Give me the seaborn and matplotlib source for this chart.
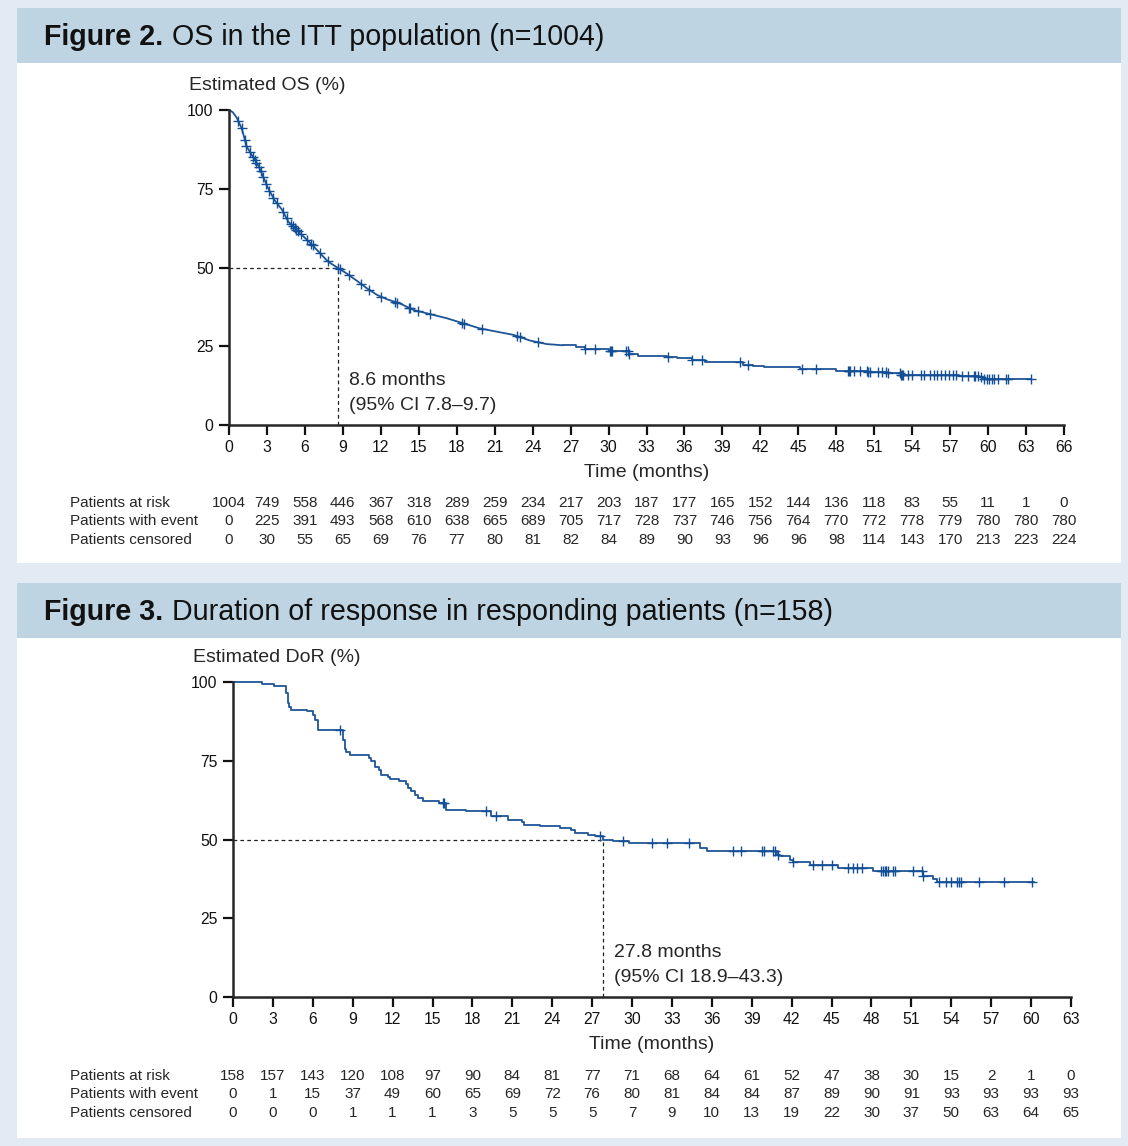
import numpy as np
import pandas as pd
import seaborn as sns
import matplotlib.pyplot as plt
from matplotlib.patches import Rectangle
from matplotlib import transforms

# ---------------------------------------------------------------- data
# OS in the ITT population
os_time = [0, 0.3, 0.6, 1.0, 1.4, 1.8, 2.3, 2.7, 3.1, 3.6, 4.2, 4.7, 5.2, 5.9, 6.5,
           7.2, 7.85, 8.6, 9.3, 10.1, 10.9, 11.7, 12.5, 13.5, 14.6, 15.9, 17.2, 18.5,
           19.8, 21.2, 22.5, 23.8, 25.1, 26.4, 27.4, 28.1, 30.0, 31.6, 32.3, 34.6,
           35.4, 36.6, 37.6, 40.6, 41.4, 42.3, 45.1, 48.0, 50.5, 52.0, 53.1, 57.7,
           59.3, 59.6, 63.4]
os_surv = [100, 99.3, 97.6, 94.2, 88.4, 85.7, 82.5, 78.8, 75.1, 71.4, 68.3, 64.5, 62.4,
           59.8, 57.5, 54.5, 51.8, 49.9, 48.1, 45.8, 43.4, 41.3, 39.9, 38.6, 36.5,
           35.2, 33.9, 32.3, 30.7, 29.6, 28.6, 26.8, 25.7, 25.3, 24.9, 24.1, 23.6,
           22.5, 22.0, 21.7, 21.3, 20.7, 19.9, 19.2, 18.6, 18.3, 17.8, 17.0, 16.7,
           16.4, 15.9, 15.7, 15.1, 14.6, 14.6]
os_censor = [0.74, 0.99, 1.25, 1.38, 1.65, 1.9, 2.05, 2.17, 2.36, 2.5, 2.7, 2.96, 3.2,
             3.5, 3.77, 4.3, 4.56, 4.9, 5.05, 5.2, 5.3, 5.45, 5.7, 6.2, 6.5, 6.6, 7.2,
             7.8, 8.6, 8.8, 9.5, 10.4, 11.1, 12.0, 13.1, 13.3, 14.2, 14.3, 14.9, 15.9,
             18.4, 18.6, 20.0, 22.8, 23.0, 24.4, 28.1, 28.9, 30.1, 30.2, 30.3, 31.4,
             31.5, 31.6, 34.7, 36.6, 37.4, 40.4, 41.0, 45.3, 46.4, 48.9, 49.0, 49.1,
             49.4, 49.9, 50.4, 50.5, 50.7, 51.3, 51.6, 51.9, 52.1, 53.0, 53.1, 53.2,
             53.3, 53.7, 54.0, 54.7, 54.9, 55.4, 55.7, 56.0, 56.3, 56.6, 56.9, 57.2,
             57.5, 57.9, 58.4, 58.9, 59.0, 59.2, 59.4, 59.7, 59.9, 60.1, 60.3, 60.5,
             60.8, 61.4, 61.6, 63.4]
os_ticks = list(range(0, 67, 3))
os_at_risk = [1004, 749, 558, 446, 367, 318, 289, 259, 234, 217, 203, 187, 177, 165,
              152, 144, 136, 118, 83, 55, 11, 1, 0]
os_event = [0, 225, 391, 493, 568, 610, 638, 665, 689, 705, 717, 728, 737, 746, 756,
            764, 770, 772, 778, 779, 780, 780, 780]
os_cens_n = [0, 30, 55, 65, 69, 76, 77, 80, 81, 82, 84, 89, 90, 93, 96, 96, 98, 114,
             143, 170, 213, 223, 224]

# Duration of response in responding patients
dor_time = [0, 2.2, 3.1, 4.0, 4.1, 4.2, 4.35, 5.6, 6.0, 6.2, 6.4, 7.5, 8.3, 8.4, 8.5,
            8.8, 10.2, 10.35, 10.65, 11.0, 11.15, 11.65, 11.8, 12.5, 13.0, 13.15, 13.4,
            13.65, 13.9, 14.3, 15.5, 16.0, 17.5, 19.4, 20.7, 21.7, 21.9, 23.05, 24.6,
            25.4, 25.7, 26.7, 27.2, 27.8, 28.6, 29.75, 35.1, 35.6, 40.9, 41.1, 41.9,
            42.1, 43.4, 45.5, 48.1, 51.9, 52.6, 52.9, 60.25]
dor_surv = [100, 99.4, 98.7, 96.5, 93.3, 92.0, 91.2, 90.7, 89.6, 88.0, 84.9, 84.7, 81.7,
            78.7, 77.7, 76.7, 75.9, 74.8, 72.9, 72.2, 70.6, 70.0, 69.3, 68.5, 67.7,
            66.3, 65.5, 64.2, 63.2, 62.1, 61.6, 59.5, 58.9, 57.4, 56.3, 55.4, 54.7,
            54.2, 53.7, 53.1, 52.1, 51.5, 51.0, 49.7, 49.4, 48.9, 47.3, 46.2, 45.2,
            44.7, 43.6, 42.8, 42.0, 41.0, 39.9, 38.3, 37.5, 36.4, 36.4]
dor_censor = [8.07, 15.8, 15.9, 19.05, 19.8, 27.6, 29.3, 31.5, 32.6, 34.25, 37.6, 38.2,
              39.75, 39.9, 40.6, 40.75, 41.0, 42.1, 43.6, 44.25, 45.0, 46.25, 46.6,
              46.9, 47.3, 48.75, 48.9, 49.0, 49.1, 49.25, 49.6, 49.8, 51.1, 51.8, 51.9,
              53.1, 53.6, 54.0, 54.4, 54.55, 54.75, 56.1, 58.0, 60.05]
dor_ticks = list(range(0, 64, 3))
dor_at_risk = [158, 157, 143, 120, 108, 97, 90, 84, 81, 77, 71, 68, 64, 61, 52, 47, 38,
               30, 15, 2, 1, 0]
dor_event = [0, 1, 15, 37, 49, 60, 65, 69, 72, 76, 80, 81, 84, 84, 87, 89, 90, 91, 93,
             93, 93, 93]
dor_cens_n = [0, 0, 0, 1, 1, 1, 3, 5, 5, 5, 7, 9, 10, 13, 19, 22, 30, 37, 50, 63, 64, 65]

# ---------------------------------------------------------------- style
sns.set_style('ticks')
plt.rcParams['font.family'] = ['Liberation Sans', 'DejaVu Sans']

BG = '#e2ebf3'
HEAD = '#bed4e2'
LINE = '#1f5597'
MARK = '#134f96'

W, H = 1128, 1146
fig = plt.figure(figsize=(W / 100, H / 100), dpi=100)
fig.patch.set_facecolor(BG)


def box(x0, y0, x1, y1, color):
    fig.add_artist(Rectangle((x0 / W, 1 - y1 / H), (x1 - x0) / W, (y1 - y0) / H,
                             transform=fig.transFigure, facecolor=color,
                             edgecolor='none', zorder=-5))


def km_panel(top, head_text, ylab, t, s, cens, ticks, xmax, median, ci,
             ax_px, tab_y, tables, smooth_until=None):
    # header and white panel
    box(17, top, 1121, top + 55, HEAD)
    box(17, top + 55, 1121, top + 555, 'white')
    fig.text(44 / W, 1 - (top + 29) / H, 'Figure %s.' % head_text[0], fontsize=20.6,
             fontweight='bold', va='center', ha='left', color='#111111')
    fig.text(172 / W, 1 - (top + 29) / H, head_text[1], fontsize=20.6,
             va='center', ha='left', color='#111111')

    x0, y0, x1, y1 = ax_px
    ax = fig.add_axes([x0 / W, 1 - y1 / H, (x1 - x0) / W, (y1 - y0) / H])
    ax.set_facecolor('none')

    curve = pd.DataFrame({'time': t, 'surv': s})
    if smooth_until is None:
        steps = curve
    else:
        # large-n early part reads as a smooth curve, the tail as steps
        early = curve[curve['time'] <= smooth_until]
        steps = curve[curve['time'] >= smooth_until]
        sns.lineplot(data=early, x='time', y='surv', estimator=None, sort=False,
                     color=LINE, linewidth=1.3, ax=ax, clip_on=False)
    sns.lineplot(data=steps, x='time', y='surv', estimator=None, sort=False,
                 drawstyle='steps-post', color=LINE, linewidth=1.3, ax=ax,
                 clip_on=False)

    # censor marks sit on the curve
    tt, ss, cc = np.array(t), np.array(s), np.array(cens)
    idx = np.searchsorted(tt, cc, side='right') - 1
    cy = ss[idx]
    if smooth_until is not None:
        early_mask = cc <= smooth_until
        cy[early_mask] = np.interp(cc[early_mask], tt, ss)
    cdf = pd.DataFrame({'time': cens, 'surv': cy})
    sns.scatterplot(data=cdf, x='time', y='surv', marker='+', s=48, linewidth=1.0,
                    color=MARK, ax=ax, clip_on=False, zorder=4)

    ax.plot([0, median], [50, 50], color='#222222', lw=0.9, ls=(0, (3, 2.5)))
    ax.plot([median, median], [0, 50], color='#222222', lw=0.9, ls=(0, (3, 2.5)))
    ax.text(median + 0.85, 14, '%.1f months' % median, fontsize=14,
            va='center', ha='left')
    ax.text(median + 0.85, 6.3, ci, fontsize=14, va='center', ha='left')

    ax.set_xlim(0, xmax)
    ax.set_ylim(0, 100)
    ax.set_xticks(ticks)
    ax.set_yticks([0, 25, 50, 75, 100])
    ax.tick_params(direction='out', length=7, width=1.6, labelsize=11.3, pad=4,
                   colors='#111111')
    for sp in ['left', 'bottom']:
        ax.spines[sp].set_linewidth(1.8)
    sns.despine(ax=ax)
    ax.set_xlabel('Time (months)', fontsize=14, labelpad=6)
    ax.set_ylabel('')
    fig.text((x0 - 40) / W, 1 - (y0 - 25) / H, ylab, fontsize=14, va='center',
             ha='left')

    # numbers at risk
    tr = transforms.blended_transform_factory(ax.transData, fig.transFigure)
    names = ['Patients at risk', 'Patients with event', 'Patients censored']
    for r, (name, vals) in enumerate(zip(names, tables)):
        yy = 1 - (tab_y + 18.5 * r) / H
        fig.text(70 / W, yy, name, fontsize=11, va='center', ha='left')
        for tk, v in zip(ticks, vals):
            ax.text(tk, yy, str(v), transform=tr, fontsize=11, va='center',
                    ha='center')
    return ax


km_panel(8, ('2', 'OS in the ITT population (n=1004)'), 'Estimated OS (%)',
         os_time, os_surv, os_censor, os_ticks, 66, 8.6, '(95% CI 7.8–9.7)',
         (229, 110, 1064, 425), 503, [os_at_risk, os_event, os_cens_n],
         smooth_until=26.4)

km_panel(583, ('3', 'Duration of response in responding patients (n=158)'),
         'Estimated DoR (%)', dor_time, dor_surv, dor_censor, dor_ticks, 63, 27.8,
         '(95% CI 18.9–43.3)', (233, 682, 1071, 997), 1076,
         [dor_at_risk, dor_event, dor_cens_n])

plt.savefig('out.png', dpi=100, facecolor=fig.get_facecolor())
